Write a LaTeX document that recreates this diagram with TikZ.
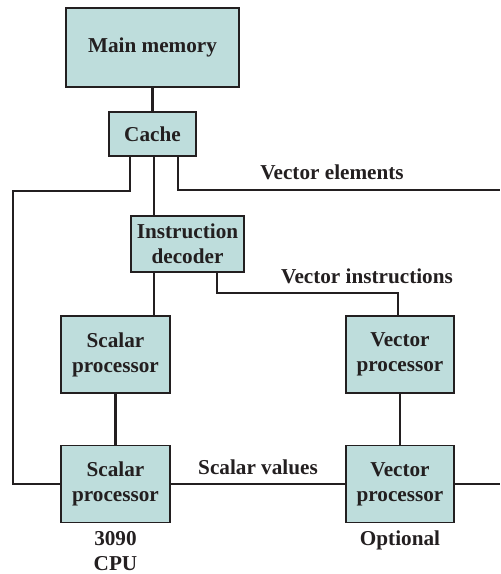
\documentclass[tikz,border=0pt]{standalone}
\usepackage{fontspec}
\setmainfont{Liberation Serif}
\usepackage{tikz}
\usetikzlibrary{positioning}
\definecolor{boxfill}{RGB}{190,221,220}
\definecolor{ink}{RGB}{35,31,32}

\begin{document}
\begin{tikzpicture}[x=0.5pt, y=-0.5pt,
  every node/.style={font=\fontsize{10.6}{12.5}\selectfont\bfseries, text=ink},
  unit/.style={draw=ink, fill=boxfill, line width=0.6pt, align=center, inner sep=0pt},
  bus/.style={draw=ink, line width=1.1pt}]
\useasboundingbox (0,0) rectangle (500,574);

\node[unit, minimum width=86.5pt, minimum height=39.5pt] (mainmem) at (152.5,47.5) {Main memory};
\node[unit, minimum width=43.5pt, minimum height=22pt] (cache) at (152.5,134) {Cache};
\node[unit, minimum width=56.5pt, minimum height=28pt] (decoder) at (187.5,244) {Instruction\\decoder};
\node[unit, minimum width=54.5pt, minimum height=38.5pt] (scalarA) at (115.5,354.5) {Scalar\\processor};
\node[unit, minimum width=54.5pt, minimum height=38.5pt] (scalarB) at (115.5,484) {Scalar\\processor};
\node[unit, minimum width=54pt, minimum height=38.5pt] (vectorA) at (400,354.5) {Vector\\processor};
\node[unit, minimum width=54pt, minimum height=38.5pt] (vectorB) at (400,484) {Vector\\processor};

\coordinate (velem) at (500,190);
\coordinate (sval) at (500,484);

\draw[bus] (mainmem.south) -- (cache.north);
\draw[bus] ([xshift=-11.25pt]cache.south) |- (13,191) |- (scalarB.west);
\draw[bus] ([xshift=12.75pt]cache.south) |- (velem);
\draw[bus] ([xshift=0.75pt]cache.south) -- ([xshift=0.75pt]cache.south |- decoder.north);
\draw[bus] ([xshift=0.75pt]cache.south |- decoder.south) -- ([xshift=0.75pt]cache.south |- scalarA.north);
\draw[bus] ([xshift=14.75pt]decoder.south) -- ++(0,20) -| ([xshift=-1pt]vectorA.north);
\draw[bus] (scalarA.south) -- (scalarB.north);
\draw[bus] (vectorA.south) -- (vectorB.north);
\draw[bus] (scalarB.east) -- (vectorB.west);
\draw[bus] (vectorB.east) -- (sval);

\node (velemlbl) at (332,172) {Vector elements};
\node (vinstlbl) at (367,276) {Vector instructions};
\node (svallbl) at (258,467) {Scalar values};
\node[align=center] (cpulbl) at (115.5,551) {3090\\CPU};
\node (optlbl) at (400,540) {Optional};
\end{tikzpicture}
\end{document}
